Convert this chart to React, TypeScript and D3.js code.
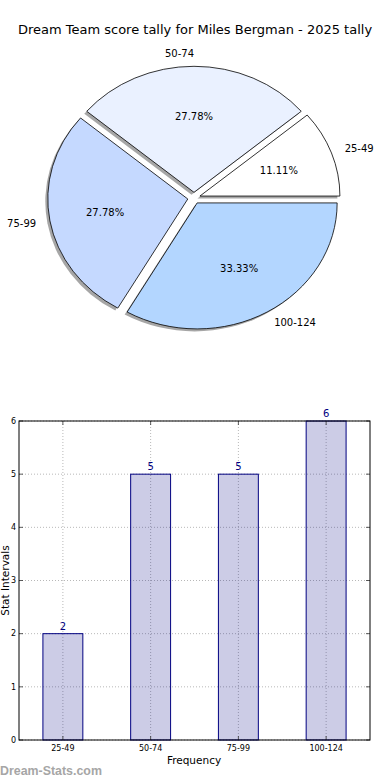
import React from "react";
import * as d3 from "d3";

// chart data
const categories = ["25-49", "50-74", "75-99", "100-124"];
const counts = [2, 5, 5, 6];
const sliceColors = ["#ffffff", "#eaf1ff", "#c5d9ff", "#b3d6ff"];
const yTicks = [0, 1, 2, 3, 4, 5, 6];
const title = "Dream Team score tally for Miles Bergman - 2025 tally";

const font = "DejaVu Sans, sans-serif";

export default function App() {
  const W = 390;
  const H = 780;

  // pie geometry (matplotlib style, slightly elliptical)
  const cx = 194;
  const cy = 198;
  const rx = 140;
  const ry = 126;
  const explode = 0.045;
  const total = d3.sum(counts);

  const pie = d3
    .pie<number>()
    .sort(null)
    .startAngle(Math.PI / 2)
    .endAngle(Math.PI / 2 - 2 * Math.PI);
  const arcs = pie(counts);
  const arc = d3.arc<d3.PieArcDatum<number>>().innerRadius(0).outerRadius(1);

  const dir = (a: d3.PieArcDatum<number>) => {
    const m = (a.startAngle + a.endAngle) / 2;
    return [Math.sin(m), -Math.cos(m)];
  };

  // bar chart geometry
  const left = 19;
  const right = 370;
  const top = 421;
  const bottom = 740;

  const x = d3
    .scaleBand()
    .domain(categories)
    .range([left, right])
    .paddingInner(0.545)
    .paddingOuter(0.2725);
  const y = d3.scaleLinear().domain([0, 6]).range([bottom, top]);
  const xc = (c: string) => (x(c) as number) + x.bandwidth() / 2;

  return (
    <div style={{ position: "absolute", left: 0, top: 0 }}>
      <svg width={W} height={H} style={{ display: "block", background: "#fff" }}>
        <text x={195} y={34} textAnchor="middle" fontFamily={font} fontSize={13} fill="#000">
          {title}
        </text>

        {/* shadows */}
        {arcs.map((a, i) => {
          const [dx, dy] = dir(a);
          return (
            <g key={"s" + i} transform={`translate(${cx - 2.5},${cy + 2.5}) scale(${rx},${ry})`}>
              <path
                d={arc(a) as string}
                transform={`translate(${dx * explode},${dy * explode})`}
                fill="#000"
                opacity={0.35}
              />
            </g>
          );
        })}
        {/* slices */}
        {arcs.map((a, i) => {
          const [dx, dy] = dir(a);
          return (
            <g key={"p" + i} transform={`translate(${cx},${cy}) scale(${rx},${ry})`}>
              <path
                d={arc(a) as string}
                transform={`translate(${dx * explode},${dy * explode})`}
                fill={sliceColors[i]}
                stroke="#000"
                strokeWidth={0.8}
                vectorEffect="non-scaling-stroke"
              />
            </g>
          );
        })}
        {arcs.map((a, i) => {
          const [dx, dy] = dir(a);
          const lr = 1.1 + explode;
          const pr = 0.6 + explode;
          return (
            <g key={"l" + i} fontFamily={font} fontSize={10} fill="#000">
              <text
                x={cx + dx * lr * rx}
                y={cy + dy * lr * ry}
                dy="0.35em"
                textAnchor={dx > 1e-6 ? "start" : "end"}
              >
                {categories[i]}
              </text>
              <text x={cx + dx * pr * rx} y={cy + dy * pr * ry} dy="0.35em" textAnchor="middle">
                {((counts[i] / total) * 100).toFixed(2) + "%"}
              </text>
            </g>
          );
        })}

        {/* bar chart grid */}
        <g stroke="#b8b8b8" strokeWidth={1} strokeDasharray="1,2">
          {yTicks.map((t) => (
            <line key={"gy" + t} x1={left} x2={right} y1={y(t)} y2={y(t)} />
          ))}
          {categories.map((c) => (
            <line key={"gx" + c} x1={xc(c)} x2={xc(c)} y1={top} y2={bottom} />
          ))}
        </g>

        {categories.map((c, i) => (
          <g key={"b" + c}>
            <rect
              x={x(c)}
              y={y(counts[i])}
              width={x.bandwidth()}
              height={y(0) - y(counts[i])}
              fill="rgba(0,0,128,0.2)"
              stroke="#000080"
              strokeWidth={1}
            />
            <text
              x={xc(c)}
              y={y(counts[i]) - 4}
              textAnchor="middle"
              fontFamily={font}
              fontSize={10}
              fill="#000080"
            >
              {counts[i]}
            </text>
          </g>
        ))}

        {/* ticks */}
        <g stroke="#333" strokeWidth={0.8}>
          {yTicks.map((t) => (
            <g key={"ty" + t}>
              <line x1={left} x2={left + 4} y1={y(t)} y2={y(t)} />
              <line x1={right - 4} x2={right} y1={y(t)} y2={y(t)} />
            </g>
          ))}
          {categories.map((c) => (
            <g key={"tx" + c}>
              <line x1={xc(c)} x2={xc(c)} y1={bottom} y2={bottom - 4} />
              <line x1={xc(c)} x2={xc(c)} y1={top} y2={top + 4} />
            </g>
          ))}
        </g>

        <rect
          x={left}
          y={top}
          width={right - left}
          height={bottom - top}
          fill="none"
          stroke="#000"
          strokeWidth={1}
        />

        <g fontFamily={font} fontSize={8} fill="#000">
          {yTicks.map((t) => (
            <text key={"ly" + t} x={left - 3} y={y(t)} dy="0.35em" textAnchor="end">
              {t}
            </text>
          ))}
          {categories.map((c) => (
            <text key={"lx" + c} x={xc(c)} y={bottom + 11} textAnchor="middle">
              {c}
            </text>
          ))}
        </g>

        <text x={194} y={764} textAnchor="middle" fontFamily={font} fontSize={10.5} fill="#000">
          Frequency
        </text>
        <text
          transform={`translate(9,${(top + bottom) / 2}) rotate(-90)`}
          textAnchor="middle"
          fontFamily={font}
          fontSize={10.5}
          fill="#000"
        >
          Stat Intervals
        </text>

        <text
          x={0}
          y={775}
          fontFamily="Liberation Sans, Arial, sans-serif"
          fontSize={12.4}
          fontWeight="bold"
          fill="#a6a6a6"
        >
          Dream-Stats.com
        </text>
      </svg>
    </div>
  );
}
